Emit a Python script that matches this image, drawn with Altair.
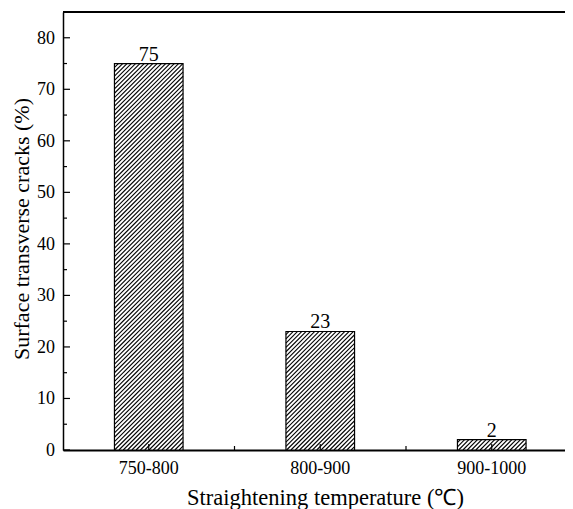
import altair as alt
import pandas as pd

categories = ["750-800", "800-900", "900-1000"]
values = [75, 23, 2]
y_major = [0, 10, 20, 30, 40, 50, 60, 70, 80]
y_minor = [5, 15, 25, 35, 45, 55, 65, 75]
x_title = "Straightening temperature (℃)"
y_title = "Surface transverse cracks (%)"

W, H = 502, 438
STEP = 171.5          # px per category
YMAX = 85
HALF = 0.2            # half bar width, in category units
SPACING = 4.3         # hatch spacing, px
sy = H / YMAX

FONT = "Liberation Serif"

bars = pd.DataFrame({
    "cat": categories,
    "v": values,
    "c": [i + 0.5 for i in range(len(categories))],
})
bars["x0"] = bars["c"] - HALF
bars["x1"] = bars["c"] + HALF

# hatch segments ("/" at 45 degrees in pixel space), clipped to each bar
segs = []
for i, v in enumerate(values):
    a = (i + 0.5 - HALF) * STEP
    b = (i + 0.5 + HALF) * STEP
    h = v * sy
    k0 = int((a - h) // SPACING) - 1
    k1 = int(b // SPACING) + 1
    for k in range(k0, k1 + 1):
        c = k * SPACING
        y0 = max(0.0, a - c)
        y1 = min(h, b - c)
        if y1 - y0 > 0.3:
            segs.append({"sx": (c + y0) / STEP, "sx2": (c + y1) / STEP,
                         "sy": y0 / sy, "sy2": y1 / sy})
hatch = pd.DataFrame(segs)

xscale = alt.Scale(domain=[0, W / STEP], nice=False, zero=False)
yscale = alt.Scale(domain=[0, YMAX], nice=False)

xaxis = alt.Axis(values=list(bars["c"]), labels=False, ticks=False, grid=False,
                 domainWidth=2, domainColor="black",
                 title=x_title, titleFont=FONT, titleFontSize=22.5, titleFontWeight="normal",
                 titleColor="black", titleX=262, titleY=54, titleBaseline="alphabetic",
                 titleAnchor="start", titleAlign="center")
yaxis = alt.Axis(values=y_major, labels=False, ticks=False, grid=False, domainWidth=1.5,
                 domainColor="black",
                 title=y_title, titleFont=FONT, titleFontSize=22, titleFontWeight="normal",
                 titleColor="black", titleX=-42, titleY=216.5, titleAngle=-90,
                 titleAlign="center", titleBaseline="middle", titleAnchor="start")

base_bars = alt.Chart(bars)

fill = base_bars.mark_rect(fill="white", stroke=None).encode(
    x=alt.X("x0:Q", scale=xscale, axis=xaxis),
    x2="x1:Q",
    y=alt.Y("v:Q", scale=yscale, axis=yaxis),
    y2=alt.datum(0),
)

hatch_layer = alt.Chart(hatch).mark_rule(color="black", strokeWidth=1.1).encode(
    x=alt.X("sx:Q", scale=xscale, axis=xaxis),
    x2="sx2:Q",
    y=alt.Y("sy:Q", scale=yscale, axis=yaxis),
    y2="sy2:Q",
)

outline = base_bars.mark_rect(fill=None, stroke="black", strokeWidth=1.2, filled=False).encode(
    x=alt.X("x0:Q", scale=xscale, axis=xaxis),
    x2="x1:Q",
    y=alt.Y("v:Q", scale=yscale, axis=yaxis),
    y2=alt.datum(0),
)

labels = base_bars.mark_text(font=FONT, fontSize=20, color="black", baseline="alphabetic", dy=-3).encode(
    x=alt.X("c:Q", scale=xscale, axis=xaxis),
    y=alt.Y("v:Q", scale=yscale, axis=yaxis),
    text="v:Q",
)

# axis tick labels
ylab = alt.Chart(pd.DataFrame({"t": y_major})).mark_text(
    font=FONT, fontSize=18, color="black", align="right", baseline="alphabetic", dy=6
).encode(y=alt.Y("t:Q", scale=yscale, axis=yaxis), x=alt.value(-8), text="t:Q")

xlab = base_bars.mark_text(
    font=FONT, fontSize=18, color="black", align="center", baseline="alphabetic"
).encode(x=alt.X("c:Q", scale=xscale, axis=xaxis), y=alt.value(H + 24), text="cat:N")

ymaj = alt.Chart(pd.DataFrame({"t": y_major})).mark_rule(color="black", strokeWidth=1.2).encode(
    y=alt.Y("t:Q", scale=yscale, axis=yaxis), x=alt.value(0), x2=alt.value(7))
ymin = alt.Chart(pd.DataFrame({"t": y_minor})).mark_rule(color="black", strokeWidth=1.2).encode(
    y=alt.Y("t:Q", scale=yscale, axis=yaxis), x=alt.value(0), x2=alt.value(4))

xmaj = alt.Chart(pd.DataFrame({"t": list(bars["c"])})).mark_rule(color="black", strokeWidth=1.2).encode(
    x=alt.X("t:Q", scale=xscale, axis=xaxis), y=alt.value(H), y2=alt.value(H - 6))
xmin = alt.Chart(pd.DataFrame({"t": [1.0, 2.0]})).mark_rule(color="black", strokeWidth=1.2).encode(
    x=alt.X("t:Q", scale=xscale, axis=xaxis), y=alt.value(H), y2=alt.value(H - 4))

top = alt.Chart(pd.DataFrame({"t": [0]})).mark_rule(color="black", strokeWidth=2).encode(
    x=alt.value(0), x2=alt.value(W), y=alt.value(0))

chart = alt.layer(fill, hatch_layer, outline, labels, ylab, xlab, ymaj, ymin, xmaj, xmin, top).properties(
    width=W, height=H,
    autosize=alt.AutoSizeParams(type="none"),
    padding={"left": 55, "top": 4, "right": 0, "bottom": 60},
    background="white",
).configure_view(strokeWidth=0)

chart.save("out.html", embed_options={"renderer": "svg", "actions": False})
